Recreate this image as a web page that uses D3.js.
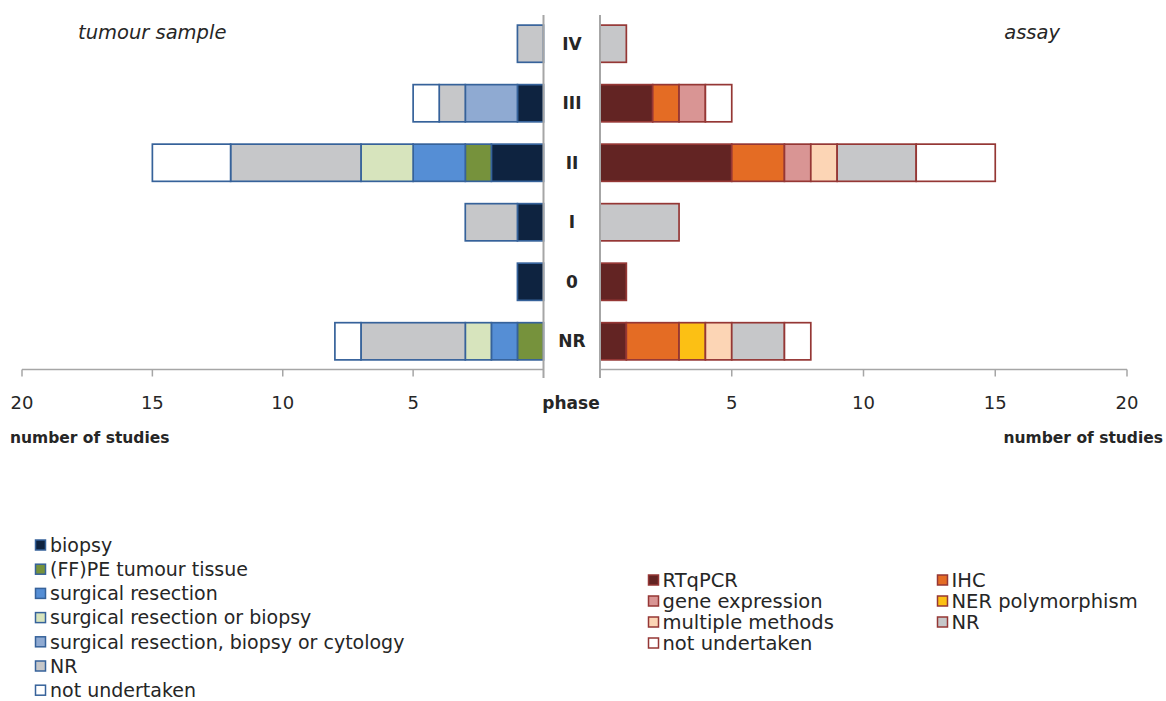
<!DOCTYPE html>
<html><head><meta charset="utf-8">
<script src="https://cdn.jsdelivr.net/npm/d3@7"></script>
<style>body{margin:0;background:#fff}svg{display:block}text{font-family:"DejaVu Sans",sans-serif;fill:#262626}</style>
</head><body><svg id="c" width="1166" height="701"></svg>
<script>
const phases = ["IV","III","II","I","0","NR"];
const sampleKeys = ["biopsy","(FF)PE tumour tissue","surgical resection","surgical resection or biopsy","surgical resection, biopsy or cytology","NR","not undertaken"];
const sampleColors = ["#0e2340","#76923c","#558ed5","#d7e4bd","#8faad2","#c6c7c9","#ffffff"];
// values per phase, in key order
const sampleValues = {
  "IV":  [0,0,0,0,0,1,0],
  "III": [1,0,0,0,2,1,1],
  "II":  [2,1,2,2,0,5,3],
  "I":   [1,0,0,0,0,2,0],
  "0":   [1,0,0,0,0,0,0],
  "NR":  [0,1,1,1,0,4,1]
};
const assayKeys = ["RTqPCR","IHC","gene expression","NER polymorphism","multiple methods","NR","not undertaken"];
const assayColors = ["#632423","#e46c24","#d99594","#fcc014","#fcd5b5","#c6c7c9","#ffffff"];
const assayValues = {
  "IV":  [0,0,0,0,0,1,0],
  "III": [2,1,1,0,0,0,1],
  "II":  [5,2,1,0,1,3,3],
  "I":   [0,0,0,0,0,3,0],
  "0":   [1,0,0,0,0,0,0],
  "NR":  [1,2,0,1,1,2,1]
};
const tickValues = [20,15,10,5];

const svg = d3.select("#c");
const y = d3.scaleBand().domain(phases).range([15,370]).paddingInner(0.375).paddingOuter(0.17);
const xL = d3.scaleLinear().domain([0,20]).range([543.5,22]);
const xR = d3.scaleLinear().domain([0,20]).range([600,1127]);
const axisY = 369.5;

function stack(vals, keys){
  const out=[]; let acc=0;
  keys.forEach((k,i)=>{ if(vals[i]>0){ out.push({k,i,x0:acc,x1:acc+vals[i]}); } acc+=vals[i]; });
  return out;
}
phases.forEach(p=>{
  const segs = stack(sampleValues[p], sampleKeys);
  svg.append("g").selectAll("rect").data(segs).join("rect")
    .attr("x",d=>xL(d.x1)).attr("width",d=>xL(d.x0)-xL(d.x1))
    .attr("y",y(p)).attr("height",y.bandwidth())
    .attr("fill",d=>sampleColors[d.i]).attr("stroke","#36629a").attr("stroke-width",1.7);
  const segsR = stack(assayValues[p], assayKeys);
  svg.append("g").selectAll("rect").data(segsR).join("rect")
    .attr("x",d=>xR(d.x0)).attr("width",d=>xR(d.x1)-xR(d.x0))
    .attr("y",y(p)).attr("height",y.bandwidth())
    .attr("fill",d=>assayColors[d.i]).attr("stroke","#953735").attr("stroke-width",1.7);
  svg.append("text").attr("x",572).attr("y",y(p)+y.bandwidth()/2).attr("dy","0.36em")
    .attr("text-anchor","middle").attr("font-weight","bold").attr("font-size",17).text(p);
});
const gray="#a6a6a6";
function drawAxis(x){
  const g=svg.append("g");
  g.append("line").attr("x1",x.range()[0]).attr("x2",x.range()[1]).attr("y1",axisY).attr("y2",axisY).attr("stroke",gray).attr("stroke-width",1.5);
  g.selectAll("line.t").data(tickValues).join("line").attr("class","t")
    .attr("x1",d=>x(d)).attr("x2",d=>x(d)).attr("y1",axisY).attr("y2",axisY+7).attr("stroke",gray).attr("stroke-width",1.5);
  g.selectAll("text").data(tickValues).join("text")
    .attr("x",d=>x(d)).attr("y",409).attr("text-anchor","middle").attr("font-size",18).text(d=>d);
  g.append("line").attr("x1",x(0)).attr("x2",x(0)).attr("y1",15).attr("y2",378).attr("stroke",gray).attr("stroke-width",2);
}
drawAxis(xL); drawAxis(xR);
svg.append("text").attr("x",571).attr("y",409).attr("text-anchor","middle").attr("font-weight","bold").attr("font-size",17).text("phase");
svg.append("text").attr("x",10).attr("y",443).attr("font-weight","bold").attr("font-size",15.5).text("number of studies");
svg.append("text").attr("x",1163).attr("y",443).attr("text-anchor","end").attr("font-weight","bold").attr("font-size",15.5).text("number of studies");
svg.append("text").attr("x",78).attr("y",39).attr("font-style","italic").attr("font-size",19.5).text("tumour sample");
svg.append("text").attr("x",1060).attr("y",39).attr("text-anchor","end").attr("font-style","italic").attr("font-size",19.5).text("assay");
const legL = svg.append("g");
sampleKeys.forEach((k,i)=>{
  const cy = 545 + i*24.2;
  legL.append("rect").attr("x",35.5).attr("y",cy-5).attr("width",10).attr("height",10)
    .attr("fill",sampleColors[i]).attr("stroke","#36629a").attr("stroke-width",1.5);
  legL.append("text").attr("x",50).attr("y",cy).attr("dy","0.36em").attr("font-size",19).text(k);
});
const legR = svg.append("g");
assayKeys.forEach((k,i)=>{
  const col = i%2, row = Math.floor(i/2);
  const cx = col? 937.5 : 648.5;
  const cy = 580 + row*21;
  legR.append("rect").attr("x",cx).attr("y",cy-5).attr("width",10).attr("height",10)
    .attr("fill",assayColors[i]).attr("stroke","#953735").attr("stroke-width",1.5);
  legR.append("text").attr("x",cx+14).attr("y",cy).attr("dy","0.36em").attr("font-size",19.5).text(k);
});
</script></body></html>
